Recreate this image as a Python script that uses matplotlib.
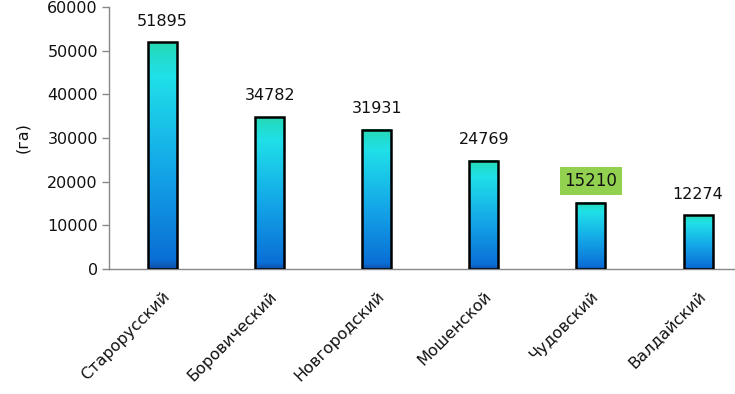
import numpy as np
import matplotlib.pyplot as plt
from matplotlib.colors import LinearSegmentedColormap
from matplotlib.patches import Rectangle

districts = ['Старорусский', 'Боровический', 'Новгородский', 'Мошенской', 'Чудовский', 'Валдайский']
areas = [51895, 34782, 31931, 24769, 15210, 12274]
highlight = 'Чудовский'
yticks = [0, 10000, 20000, 30000, 40000, 50000, 60000]

# gradient from bottom (blue) to top (teal)
grad = LinearSegmentedColormap.from_list(
    'bar', [(0.0, '#0f4fa8'), (0.04, '#0a6fd6'), (0.45, '#14a8e8'),
            (0.85, '#20e0e8'), (0.95, '#22dcc8'), (1.0, '#2ad8b0')])

fig = plt.figure(figsize=(7.35, 3.94), dpi=100)
ax = fig.add_axes([109 / 735, 125 / 394, 626 / 735, 262 / 394])

spacing = 107.1
bar_w = 0.27
ramp = np.linspace(0, 1, 256).reshape(-1, 1)
for i, (name, val) in enumerate(zip(districts, areas)):
    x0 = i - bar_w / 2
    ax.imshow(ramp, cmap=grad, origin='lower', aspect='auto',
              extent=(x0, x0 + bar_w, 0, val), zorder=2, interpolation='bilinear')
    ax.add_patch(Rectangle((x0, 0), bar_w, val, fill=False, edgecolor='black',
                           linewidth=1.8, zorder=3))
    if name == highlight:
        ax.annotate(f'{val}', (i, val), xytext=(0, 9), textcoords='offset points',
                    ha='center', va='bottom', fontsize=12, color='#111111',
                    bbox=dict(boxstyle='square,pad=0.3', facecolor='#92d050', edgecolor='none'))
    else:
        ax.annotate(f'{val}', (i, val), xytext=(0, 10), textcoords='offset points',
                    ha='center', va='bottom', fontsize=11.5, color='#111111')

ax.set_xlim(-0.5, -0.5 + 626 / spacing)
ax.set_ylim(0, 60000)
ax.set_yticks(yticks)
ax.set_yticklabels([str(t) for t in yticks], fontsize=11.5, color='#111111')
ax.set_xticks(range(len(districts)))
ax.set_xticklabels(districts, rotation=45, ha='right', rotation_mode='anchor',
                   fontsize=11.5, color='#111111')
ax.tick_params(axis='x', length=0, pad=14)
ax.tick_params(axis='y', direction='out', length=5, width=1, color='#888888', pad=3)
ax.set_ylabel('(га)', fontsize=11.5, color='#111111', labelpad=12)

for s in ['top', 'right']:
    ax.spines[s].set_visible(False)
for s in ['left', 'bottom']:
    ax.spines[s].set_color('#888888')
    ax.spines[s].set_linewidth(1)
ax.set_facecolor('white')

fig.savefig('out.png', dpi=100)
